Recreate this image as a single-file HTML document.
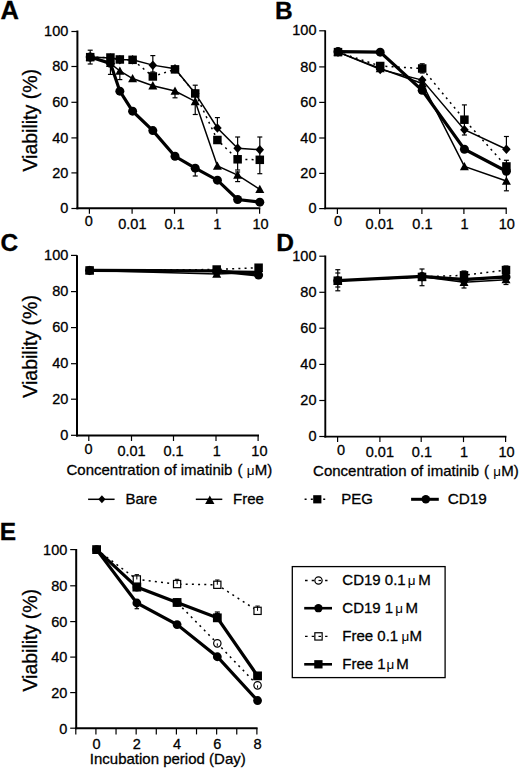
<!DOCTYPE html>
<html><head><meta charset="utf-8"><style>
html,body{margin:0;padding:0;background:#fff;}
svg{display:block;font-family:'Liberation Sans', sans-serif;}
text{fill:#000;stroke:#000;stroke-width:0.3px;}
</style></head><body>
<svg width="520" height="769" viewBox="0 0 520 769">
<rect width="520" height="769" fill="#fff"/>
<text x="0.6" y="19.4" font-size="25.5" text-anchor="start" font-weight="bold">A</text>
<line x1="77.4" y1="30.5" x2="77.4" y2="209.3" stroke="#000" stroke-width="2" stroke-linecap="butt"/>
<line x1="71.4" y1="31.5" x2="77.4" y2="31.5" stroke="#000" stroke-width="1.2" stroke-linecap="butt"/>
<text x="68.3" y="36.1" font-size="14.5" text-anchor="end" font-weight="normal">100</text>
<line x1="71.4" y1="66.5" x2="77.4" y2="66.5" stroke="#000" stroke-width="1.2" stroke-linecap="butt"/>
<text x="68.3" y="71.1" font-size="14.5" text-anchor="end" font-weight="normal">80</text>
<line x1="71.4" y1="102.3" x2="77.4" y2="102.3" stroke="#000" stroke-width="1.2" stroke-linecap="butt"/>
<text x="68.3" y="106.9" font-size="14.5" text-anchor="end" font-weight="normal">60</text>
<line x1="71.4" y1="137.9" x2="77.4" y2="137.9" stroke="#000" stroke-width="1.2" stroke-linecap="butt"/>
<text x="68.3" y="142.5" font-size="14.5" text-anchor="end" font-weight="normal">40</text>
<line x1="71.4" y1="172.9" x2="77.4" y2="172.9" stroke="#000" stroke-width="1.2" stroke-linecap="butt"/>
<text x="68.3" y="177.5" font-size="14.5" text-anchor="end" font-weight="normal">20</text>
<line x1="71.4" y1="208.5" x2="77.4" y2="208.5" stroke="#000" stroke-width="1.2" stroke-linecap="butt"/>
<text x="68.3" y="213.1" font-size="14.5" text-anchor="end" font-weight="normal">0</text>
<line x1="76.4" y1="208.3" x2="260.3" y2="208.3" stroke="#000" stroke-width="2" stroke-linecap="butt"/>
<line x1="89.4" y1="208.3" x2="89.4" y2="213.8" stroke="#000" stroke-width="1.2" stroke-linecap="butt"/>
<text x="88.8" y="226" font-size="14.5" text-anchor="middle" font-weight="normal">0</text>
<line x1="132.1" y1="208.3" x2="132.1" y2="213.8" stroke="#000" stroke-width="1.2" stroke-linecap="butt"/>
<text x="132.4" y="229.3" font-size="14.5" text-anchor="middle" font-weight="normal">0.01</text>
<line x1="174.5" y1="208.3" x2="174.5" y2="213.8" stroke="#000" stroke-width="1.2" stroke-linecap="butt"/>
<text x="174.5" y="229.3" font-size="14.5" text-anchor="middle" font-weight="normal">0.1</text>
<line x1="216.8" y1="208.3" x2="216.8" y2="213.8" stroke="#000" stroke-width="1.2" stroke-linecap="butt"/>
<text x="217.4" y="229.3" font-size="14.5" text-anchor="middle" font-weight="normal">1</text>
<line x1="259.6" y1="208.3" x2="259.6" y2="213.8" stroke="#000" stroke-width="1.2" stroke-linecap="butt"/>
<text x="260.5" y="229.3" font-size="14.5" text-anchor="middle" font-weight="normal">10</text>
<text transform="translate(36.8,120.3) rotate(-90)" font-size="19.5" text-anchor="middle">Viability (%)</text>
<line x1="90.2" y1="50.2" x2="90.2" y2="64" stroke="#000" stroke-width="1.2" stroke-linecap="butt"/>
<line x1="87.7" y1="50.2" x2="92.7" y2="50.2" stroke="#000" stroke-width="1.2" stroke-linecap="butt"/>
<line x1="87.7" y1="64" x2="92.7" y2="64" stroke="#000" stroke-width="1.2" stroke-linecap="butt"/>
<line x1="110.43" y1="62" x2="110.43" y2="74.4" stroke="#000" stroke-width="1.2" stroke-linecap="butt"/>
<line x1="107.93" y1="62" x2="112.93" y2="62" stroke="#000" stroke-width="1.2" stroke-linecap="butt"/>
<line x1="107.93" y1="74.4" x2="112.93" y2="74.4" stroke="#000" stroke-width="1.2" stroke-linecap="butt"/>
<line x1="119.84" y1="72" x2="119.84" y2="79.6" stroke="#000" stroke-width="1.2" stroke-linecap="butt"/>
<line x1="117.34" y1="72" x2="122.34" y2="72" stroke="#000" stroke-width="1.2" stroke-linecap="butt"/>
<line x1="117.34" y1="79.6" x2="122.34" y2="79.6" stroke="#000" stroke-width="1.2" stroke-linecap="butt"/>
<line x1="152.83" y1="55.6" x2="152.83" y2="72" stroke="#000" stroke-width="1.2" stroke-linecap="butt"/>
<line x1="150.33" y1="55.6" x2="155.33" y2="55.6" stroke="#000" stroke-width="1.2" stroke-linecap="butt"/>
<line x1="150.33" y1="72" x2="155.33" y2="72" stroke="#000" stroke-width="1.2" stroke-linecap="butt"/>
<line x1="175" y1="91" x2="175" y2="97.8" stroke="#000" stroke-width="1.2" stroke-linecap="butt"/>
<line x1="172.5" y1="97.8" x2="177.5" y2="97.8" stroke="#000" stroke-width="1.2" stroke-linecap="butt"/>
<line x1="195.23" y1="85.2" x2="195.23" y2="114.5" stroke="#000" stroke-width="1.2" stroke-linecap="butt"/>
<line x1="192.73" y1="85.2" x2="197.73" y2="85.2" stroke="#000" stroke-width="1.2" stroke-linecap="butt"/>
<line x1="192.73" y1="114.5" x2="197.73" y2="114.5" stroke="#000" stroke-width="1.2" stroke-linecap="butt"/>
<line x1="217.4" y1="117.6" x2="217.4" y2="128" stroke="#000" stroke-width="1.2" stroke-linecap="butt"/>
<line x1="214.9" y1="117.6" x2="219.9" y2="117.6" stroke="#000" stroke-width="1.2" stroke-linecap="butt"/>
<line x1="237.63" y1="137" x2="237.63" y2="170" stroke="#000" stroke-width="1.2" stroke-linecap="butt"/>
<line x1="235.13" y1="137" x2="240.13" y2="137" stroke="#000" stroke-width="1.2" stroke-linecap="butt"/>
<line x1="235.13" y1="170" x2="240.13" y2="170" stroke="#000" stroke-width="1.2" stroke-linecap="butt"/>
<line x1="237.63" y1="172" x2="237.63" y2="181.6" stroke="#000" stroke-width="1.2" stroke-linecap="butt"/>
<line x1="235.13" y1="172" x2="240.13" y2="172" stroke="#000" stroke-width="1.2" stroke-linecap="butt"/>
<line x1="235.13" y1="181.6" x2="240.13" y2="181.6" stroke="#000" stroke-width="1.2" stroke-linecap="butt"/>
<line x1="259.8" y1="137" x2="259.8" y2="173.7" stroke="#000" stroke-width="1.2" stroke-linecap="butt"/>
<line x1="257.3" y1="137" x2="262.3" y2="137" stroke="#000" stroke-width="1.2" stroke-linecap="butt"/>
<line x1="257.3" y1="173.7" x2="262.3" y2="173.7" stroke="#000" stroke-width="1.2" stroke-linecap="butt"/>
<line x1="195.23" y1="166" x2="195.23" y2="176" stroke="#000" stroke-width="1.2" stroke-linecap="butt"/>
<line x1="192.73" y1="166" x2="197.73" y2="166" stroke="#000" stroke-width="1.2" stroke-linecap="butt"/>
<line x1="192.73" y1="176" x2="197.73" y2="176" stroke="#000" stroke-width="1.2" stroke-linecap="butt"/>
<polyline points="90.2,57.16 110.43,63.36 119.84,70.97 132.6,78.58 152.83,85.66 175,90.97 195.23,101.41 217.4,166.02 237.63,175.05 259.8,189.38" fill="none" stroke="#000" stroke-width="1.5" stroke-linecap="butt" stroke-linejoin="miter"/>
<polygon points="90.2,52.61 94.7,60.89 85.7,60.89" fill="#000"/>
<polygon points="110.43,58.81 114.93,67.09 105.93,67.09" fill="#000"/>
<polygon points="119.84,66.42 124.34,74.7 115.34,74.7" fill="#000"/>
<polygon points="132.6,74.03 137.1,82.31 128.1,82.31" fill="#000"/>
<polygon points="152.83,81.11 157.33,89.39 148.33,89.39" fill="#000"/>
<polygon points="175,86.42 179.5,94.7 170.5,94.7" fill="#000"/>
<polygon points="195.23,96.86 199.73,105.14 190.73,105.14" fill="#000"/>
<polygon points="217.4,161.47 221.9,169.75 212.9,169.75" fill="#000"/>
<polygon points="237.63,170.49 242.13,178.77 233.13,178.77" fill="#000"/>
<polygon points="259.8,184.83 264.3,193.11 255.3,193.11" fill="#000"/>
<polyline points="90.2,56.99 110.43,58.05 119.84,59.82 132.6,59.82 152.83,65.13 175,68.67 195.23,93.45 217.4,127.97 237.63,148.32 259.8,149.74" fill="none" stroke="#000" stroke-width="1.5" stroke-linecap="butt" stroke-linejoin="miter"/>
<polygon points="90.2,52.24 94.48,56.99 90.2,61.74 85.92,56.99" fill="#000"/>
<polygon points="110.43,53.3 114.7,58.05 110.43,62.8 106.15,58.05" fill="#000"/>
<polygon points="119.84,55.07 124.11,59.82 119.84,64.57 115.56,59.82" fill="#000"/>
<polygon points="132.6,55.07 136.88,59.82 132.6,64.57 128.32,59.82" fill="#000"/>
<polygon points="152.83,60.38 157.1,65.13 152.83,69.88 148.55,65.13" fill="#000"/>
<polygon points="175,63.92 179.28,68.67 175,73.42 170.72,68.67" fill="#000"/>
<polygon points="195.23,88.7 199.5,93.45 195.23,98.2 190.95,93.45" fill="#000"/>
<polygon points="217.4,123.22 221.67,127.97 217.4,132.72 213.12,127.97" fill="#000"/>
<polygon points="237.63,143.57 241.9,148.32 237.63,153.07 233.35,148.32" fill="#000"/>
<polygon points="259.8,144.99 264.07,149.74 259.8,154.49 255.52,149.74" fill="#000"/>
<polyline points="90.2,57.16 110.43,57.52 119.84,59.47 132.6,59.82 152.83,76.46 175,69.38 195.23,93.45 217.4,140 237.63,159.29 259.8,159.82" fill="none" stroke="#000" stroke-width="1.5" stroke-linecap="butt" stroke-linejoin="miter" stroke-dasharray="2,4.2"/>
<rect x="85.95" y="52.91" width="8.5" height="8.5" fill="#000"/>
<rect x="106.18" y="53.27" width="8.5" height="8.5" fill="#000"/>
<rect x="115.59" y="55.22" width="8.5" height="8.5" fill="#000"/>
<rect x="128.35" y="55.57" width="8.5" height="8.5" fill="#000"/>
<rect x="148.58" y="72.21" width="8.5" height="8.5" fill="#000"/>
<rect x="170.75" y="65.13" width="8.5" height="8.5" fill="#000"/>
<rect x="190.98" y="89.2" width="8.5" height="8.5" fill="#000"/>
<rect x="213.15" y="135.75" width="8.5" height="8.5" fill="#000"/>
<rect x="233.38" y="155.04" width="8.5" height="8.5" fill="#000"/>
<rect x="255.55" y="155.57" width="8.5" height="8.5" fill="#000"/>
<polyline points="90.2,56.99 110.43,63.36 119.84,91.15 132.6,111.15 152.83,130.62 175,156.28 195.23,168.14 217.4,180.18 237.63,199.47 259.8,202.13" fill="none" stroke="#000" stroke-width="3.2" stroke-linecap="butt" stroke-linejoin="miter"/>
<circle cx="90.2" cy="56.99" r="4.5" fill="#000"/>
<circle cx="110.43" cy="63.36" r="4.5" fill="#000"/>
<circle cx="119.84" cy="91.15" r="4.5" fill="#000"/>
<circle cx="132.6" cy="111.15" r="4.5" fill="#000"/>
<circle cx="152.83" cy="130.62" r="4.5" fill="#000"/>
<circle cx="175" cy="156.28" r="4.5" fill="#000"/>
<circle cx="195.23" cy="168.14" r="4.5" fill="#000"/>
<circle cx="217.4" cy="180.18" r="4.5" fill="#000"/>
<circle cx="237.63" cy="199.47" r="4.5" fill="#000"/>
<circle cx="259.8" cy="202.13" r="4.5" fill="#000"/>
<text x="275" y="18.8" font-size="24.5" text-anchor="start" font-weight="bold">B</text>
<line x1="325.2" y1="30.3" x2="325.2" y2="209.2" stroke="#000" stroke-width="1.8" stroke-linecap="butt"/>
<line x1="319.2" y1="30.8" x2="325.2" y2="30.8" stroke="#000" stroke-width="1.2" stroke-linecap="butt"/>
<text x="316.5" y="35.4" font-size="14.5" text-anchor="end" font-weight="normal">100</text>
<line x1="319.2" y1="66.9" x2="325.2" y2="66.9" stroke="#000" stroke-width="1.2" stroke-linecap="butt"/>
<text x="316.5" y="71.5" font-size="14.5" text-anchor="end" font-weight="normal">80</text>
<line x1="319.2" y1="102.4" x2="325.2" y2="102.4" stroke="#000" stroke-width="1.2" stroke-linecap="butt"/>
<text x="316.5" y="107" font-size="14.5" text-anchor="end" font-weight="normal">60</text>
<line x1="319.2" y1="138" x2="325.2" y2="138" stroke="#000" stroke-width="1.2" stroke-linecap="butt"/>
<text x="316.5" y="142.6" font-size="14.5" text-anchor="end" font-weight="normal">40</text>
<line x1="319.2" y1="173.4" x2="325.2" y2="173.4" stroke="#000" stroke-width="1.2" stroke-linecap="butt"/>
<text x="316.5" y="178" font-size="14.5" text-anchor="end" font-weight="normal">20</text>
<line x1="319.2" y1="208.6" x2="325.2" y2="208.6" stroke="#000" stroke-width="1.2" stroke-linecap="butt"/>
<text x="316.5" y="213.2" font-size="14.5" text-anchor="end" font-weight="normal">0</text>
<line x1="324.3" y1="208.4" x2="506.8" y2="208.4" stroke="#000" stroke-width="1.8" stroke-linecap="butt"/>
<line x1="337.4" y1="208.4" x2="337.4" y2="213.9" stroke="#000" stroke-width="1.2" stroke-linecap="butt"/>
<text x="338" y="226" font-size="14.5" text-anchor="middle" font-weight="normal">0</text>
<line x1="379.7" y1="208.4" x2="379.7" y2="213.9" stroke="#000" stroke-width="1.2" stroke-linecap="butt"/>
<text x="379.7" y="229.3" font-size="14.5" text-anchor="middle" font-weight="normal">0.01</text>
<line x1="421.9" y1="208.4" x2="421.9" y2="213.9" stroke="#000" stroke-width="1.2" stroke-linecap="butt"/>
<text x="422.4" y="229.3" font-size="14.5" text-anchor="middle" font-weight="normal">0.1</text>
<line x1="463.9" y1="208.4" x2="463.9" y2="213.9" stroke="#000" stroke-width="1.2" stroke-linecap="butt"/>
<text x="464.5" y="229.3" font-size="14.5" text-anchor="middle" font-weight="normal">1</text>
<line x1="506.2" y1="208.4" x2="506.2" y2="213.9" stroke="#000" stroke-width="1.2" stroke-linecap="butt"/>
<text x="506.8" y="229.3" font-size="14.5" text-anchor="middle" font-weight="normal">10</text>
<line x1="422.2" y1="63.8" x2="422.2" y2="73" stroke="#000" stroke-width="1.2" stroke-linecap="butt"/>
<line x1="419.7" y1="63.8" x2="424.7" y2="63.8" stroke="#000" stroke-width="1.2" stroke-linecap="butt"/>
<line x1="419.7" y1="73" x2="424.7" y2="73" stroke="#000" stroke-width="1.2" stroke-linecap="butt"/>
<line x1="464.4" y1="104.9" x2="464.4" y2="135" stroke="#000" stroke-width="1.2" stroke-linecap="butt"/>
<line x1="461.9" y1="104.9" x2="466.9" y2="104.9" stroke="#000" stroke-width="1.2" stroke-linecap="butt"/>
<line x1="461.9" y1="135" x2="466.9" y2="135" stroke="#000" stroke-width="1.2" stroke-linecap="butt"/>
<line x1="506.4" y1="136.5" x2="506.4" y2="148" stroke="#000" stroke-width="1.2" stroke-linecap="butt"/>
<line x1="503.9" y1="136.5" x2="508.9" y2="136.5" stroke="#000" stroke-width="1.2" stroke-linecap="butt"/>
<line x1="506.4" y1="160.3" x2="506.4" y2="190.8" stroke="#000" stroke-width="1.2" stroke-linecap="butt"/>
<line x1="503.9" y1="160.3" x2="508.9" y2="160.3" stroke="#000" stroke-width="1.2" stroke-linecap="butt"/>
<line x1="503.9" y1="190.8" x2="508.9" y2="190.8" stroke="#000" stroke-width="1.2" stroke-linecap="butt"/>
<polyline points="338,52.14 380.2,68.49 422.2,83.43 464.4,166.46 506.4,181.04" fill="none" stroke="#000" stroke-width="1.5" stroke-linecap="butt" stroke-linejoin="miter"/>
<polygon points="338,47.58 342.5,55.86 333.5,55.86" fill="#000"/>
<polygon points="380.2,63.94 384.7,72.22 375.7,72.22" fill="#000"/>
<polygon points="422.2,78.87 426.7,87.15 417.7,87.15" fill="#000"/>
<polygon points="464.4,161.91 468.9,170.19 459.9,170.19" fill="#000"/>
<polygon points="506.4,176.49 510.9,184.77 501.9,184.77" fill="#000"/>
<polyline points="338,52.14 380.2,69.38 422.2,80.05 464.4,129.66 506.4,149.21" fill="none" stroke="#000" stroke-width="1.5" stroke-linecap="butt" stroke-linejoin="miter"/>
<polygon points="338,47.39 342.27,52.14 338,56.89 333.73,52.14" fill="#000"/>
<polygon points="380.2,64.63 384.47,69.38 380.2,74.13 375.93,69.38" fill="#000"/>
<polygon points="422.2,75.3 426.47,80.05 422.2,84.8 417.93,80.05" fill="#000"/>
<polygon points="464.4,124.91 468.67,129.66 464.4,134.41 460.12,129.66" fill="#000"/>
<polygon points="506.4,144.46 510.67,149.21 506.4,153.96 502.12,149.21" fill="#000"/>
<polyline points="338,52.14 380.2,66 422.2,68.49 464.4,119.7 506.4,166.46" fill="none" stroke="#000" stroke-width="1.5" stroke-linecap="butt" stroke-linejoin="miter" stroke-dasharray="2,4.2"/>
<rect x="333.75" y="47.89" width="8.5" height="8.5" fill="#000"/>
<rect x="375.95" y="61.75" width="8.5" height="8.5" fill="#000"/>
<rect x="417.95" y="64.24" width="8.5" height="8.5" fill="#000"/>
<rect x="460.15" y="115.45" width="8.5" height="8.5" fill="#000"/>
<rect x="502.15" y="162.21" width="8.5" height="8.5" fill="#000"/>
<polyline points="338,51.6 380.2,52.14 422.2,90.36 464.4,149.21 506.4,171.26" fill="none" stroke="#000" stroke-width="3.2" stroke-linecap="butt" stroke-linejoin="miter"/>
<circle cx="338" cy="51.6" r="4.5" fill="#000"/>
<circle cx="380.2" cy="52.14" r="4.5" fill="#000"/>
<circle cx="422.2" cy="90.36" r="4.5" fill="#000"/>
<circle cx="464.4" cy="149.21" r="4.5" fill="#000"/>
<circle cx="506.4" cy="171.26" r="4.5" fill="#000"/>
<text x="0.5" y="250.6" font-size="24.5" text-anchor="start" font-weight="bold">C</text>
<line x1="77" y1="255.2" x2="77" y2="436.4" stroke="#000" stroke-width="2" stroke-linecap="butt"/>
<line x1="71" y1="255.4" x2="77" y2="255.4" stroke="#000" stroke-width="1.2" stroke-linecap="butt"/>
<text x="68.3" y="260" font-size="14.5" text-anchor="end" font-weight="normal">100</text>
<line x1="71" y1="291.6" x2="77" y2="291.6" stroke="#000" stroke-width="1.2" stroke-linecap="butt"/>
<text x="68.3" y="296.2" font-size="14.5" text-anchor="end" font-weight="normal">80</text>
<line x1="71" y1="327.6" x2="77" y2="327.6" stroke="#000" stroke-width="1.2" stroke-linecap="butt"/>
<text x="68.3" y="332.2" font-size="14.5" text-anchor="end" font-weight="normal">60</text>
<line x1="71" y1="363.7" x2="77" y2="363.7" stroke="#000" stroke-width="1.2" stroke-linecap="butt"/>
<text x="68.3" y="368.3" font-size="14.5" text-anchor="end" font-weight="normal">40</text>
<line x1="71" y1="399.2" x2="77" y2="399.2" stroke="#000" stroke-width="1.2" stroke-linecap="butt"/>
<text x="68.3" y="403.8" font-size="14.5" text-anchor="end" font-weight="normal">20</text>
<line x1="71" y1="435.3" x2="77" y2="435.3" stroke="#000" stroke-width="1.2" stroke-linecap="butt"/>
<text x="68.3" y="439.9" font-size="14.5" text-anchor="end" font-weight="normal">0</text>
<line x1="76" y1="435.5" x2="259" y2="435.5" stroke="#000" stroke-width="2" stroke-linecap="butt"/>
<line x1="88.8" y1="435.5" x2="88.8" y2="441" stroke="#000" stroke-width="1.2" stroke-linecap="butt"/>
<text x="88.5" y="453.8" font-size="14.5" text-anchor="middle" font-weight="normal">0</text>
<line x1="131.5" y1="435.5" x2="131.5" y2="441" stroke="#000" stroke-width="1.2" stroke-linecap="butt"/>
<text x="131.5" y="455.9" font-size="14.5" text-anchor="middle" font-weight="normal">0.01</text>
<line x1="173.5" y1="435.5" x2="173.5" y2="441" stroke="#000" stroke-width="1.2" stroke-linecap="butt"/>
<text x="173.5" y="455.9" font-size="14.5" text-anchor="middle" font-weight="normal">0.1</text>
<line x1="216" y1="435.5" x2="216" y2="441" stroke="#000" stroke-width="1.2" stroke-linecap="butt"/>
<text x="216.8" y="455.9" font-size="14.5" text-anchor="middle" font-weight="normal">1</text>
<line x1="258.1" y1="435.5" x2="258.1" y2="441" stroke="#000" stroke-width="1.2" stroke-linecap="butt"/>
<text x="259.4" y="455.9" font-size="14.5" text-anchor="middle" font-weight="normal">10</text>
<text transform="translate(36.8,346.4) rotate(-90)" font-size="19.5" text-anchor="middle">Viability (%)</text>
<text x="66.5" y="475.3" font-size="15" text-anchor="start" font-weight="normal">Concentration of imatinib</text>
<text x="237.5" y="475.3" font-size="15" text-anchor="start" font-weight="normal">(</text>
<text x="246.7" y="475.3" font-size="13.5" style="stroke:none">μ</text>
<text x="254.7" y="475.3" font-size="15" text-anchor="start" font-weight="normal">M)</text>
<text x="313.1" y="476.1" font-size="15" text-anchor="start" font-weight="normal">Concentration of imatinib</text>
<text x="484.1" y="476.1" font-size="15" text-anchor="start" font-weight="normal">(</text>
<text x="493.3" y="476.1" font-size="13.5" style="stroke:none">μ</text>
<text x="501.3" y="476.1" font-size="15" text-anchor="start" font-weight="normal">M)</text>
<polyline points="89.6,270.42 216.7,274.02 258.6,272.4" fill="none" stroke="#000" stroke-width="1.5" stroke-linecap="butt" stroke-linejoin="miter"/>
<polygon points="89.6,265.87 94.1,274.15 85.1,274.15" fill="#000"/>
<polygon points="216.7,269.47 221.2,277.75 212.2,277.75" fill="#000"/>
<polygon points="258.6,267.85 263.1,276.13 254.1,276.13" fill="#000"/>
<polyline points="89.6,270.42 216.7,270.96 258.6,271.5" fill="none" stroke="#000" stroke-width="1.5" stroke-linecap="butt" stroke-linejoin="miter"/>
<polygon points="89.6,265.67 93.88,270.42 89.6,275.17 85.32,270.42" fill="#000"/>
<polygon points="216.7,266.21 220.97,270.96 216.7,275.71 212.42,270.96" fill="#000"/>
<polygon points="258.6,266.75 262.88,271.5 258.6,276.25 254.33,271.5" fill="#000"/>
<polyline points="89.6,270.42 216.7,270.96 258.6,275.1" fill="none" stroke="#000" stroke-width="3.2" stroke-linecap="butt" stroke-linejoin="miter"/>
<circle cx="89.6" cy="270.42" r="4.5" fill="#000"/>
<circle cx="216.7" cy="270.96" r="4.5" fill="#000"/>
<circle cx="258.6" cy="275.1" r="4.5" fill="#000"/>
<polyline points="89.6,270.42 216.7,269.52 258.6,267.72" fill="none" stroke="#000" stroke-width="1.5" stroke-linecap="butt" stroke-linejoin="miter" stroke-dasharray="2,4.2"/>
<rect x="85.35" y="266.17" width="8.5" height="8.5" fill="#000"/>
<rect x="212.45" y="265.27" width="8.5" height="8.5" fill="#000"/>
<rect x="254.35" y="263.47" width="8.5" height="8.5" fill="#000"/>
<text x="276.2" y="250.6" font-size="24.5" text-anchor="start" font-weight="bold">D</text>
<line x1="325.3" y1="255.5" x2="325.3" y2="437.55" stroke="#000" stroke-width="1.9" stroke-linecap="butt"/>
<line x1="319.3" y1="256.2" x2="325.3" y2="256.2" stroke="#000" stroke-width="1.2" stroke-linecap="butt"/>
<text x="316.5" y="260.8" font-size="14.5" text-anchor="end" font-weight="normal">100</text>
<line x1="319.3" y1="292.3" x2="325.3" y2="292.3" stroke="#000" stroke-width="1.2" stroke-linecap="butt"/>
<text x="316.5" y="296.9" font-size="14.5" text-anchor="end" font-weight="normal">80</text>
<line x1="319.3" y1="328.2" x2="325.3" y2="328.2" stroke="#000" stroke-width="1.2" stroke-linecap="butt"/>
<text x="316.5" y="332.8" font-size="14.5" text-anchor="end" font-weight="normal">60</text>
<line x1="319.3" y1="364.4" x2="325.3" y2="364.4" stroke="#000" stroke-width="1.2" stroke-linecap="butt"/>
<text x="316.5" y="369" font-size="14.5" text-anchor="end" font-weight="normal">40</text>
<line x1="319.3" y1="400.5" x2="325.3" y2="400.5" stroke="#000" stroke-width="1.2" stroke-linecap="butt"/>
<text x="316.5" y="405.1" font-size="14.5" text-anchor="end" font-weight="normal">20</text>
<line x1="319.3" y1="436.5" x2="325.3" y2="436.5" stroke="#000" stroke-width="1.2" stroke-linecap="butt"/>
<text x="316.5" y="441.1" font-size="14.5" text-anchor="end" font-weight="normal">0</text>
<line x1="324.35" y1="436.6" x2="506.4" y2="436.6" stroke="#000" stroke-width="1.9" stroke-linecap="butt"/>
<line x1="337.6" y1="436.6" x2="337.6" y2="442.1" stroke="#000" stroke-width="1.2" stroke-linecap="butt"/>
<text x="341" y="455" font-size="14.5" text-anchor="middle" font-weight="normal">0</text>
<line x1="379.9" y1="436.6" x2="379.9" y2="442.1" stroke="#000" stroke-width="1.2" stroke-linecap="butt"/>
<text x="379.9" y="456.8" font-size="14.5" text-anchor="middle" font-weight="normal">0.01</text>
<line x1="421.2" y1="436.6" x2="421.2" y2="442.1" stroke="#000" stroke-width="1.2" stroke-linecap="butt"/>
<text x="421.9" y="456.8" font-size="14.5" text-anchor="middle" font-weight="normal">0.1</text>
<line x1="463.5" y1="436.6" x2="463.5" y2="442.1" stroke="#000" stroke-width="1.2" stroke-linecap="butt"/>
<text x="464.1" y="456.8" font-size="14.5" text-anchor="middle" font-weight="normal">1</text>
<line x1="505.6" y1="436.6" x2="505.6" y2="442.1" stroke="#000" stroke-width="1.2" stroke-linecap="butt"/>
<text x="506.5" y="456.8" font-size="14.5" text-anchor="middle" font-weight="normal">10</text>
<line x1="337.8" y1="269.7" x2="337.8" y2="290.8" stroke="#000" stroke-width="1.2" stroke-linecap="butt"/>
<line x1="335.3" y1="269.7" x2="340.3" y2="269.7" stroke="#000" stroke-width="1.2" stroke-linecap="butt"/>
<line x1="335.3" y1="290.8" x2="340.3" y2="290.8" stroke="#000" stroke-width="1.2" stroke-linecap="butt"/>
<line x1="335.3" y1="273" x2="340.3" y2="273" stroke="#000" stroke-width="1.2" stroke-linecap="butt"/>
<line x1="335.3" y1="287" x2="340.3" y2="287" stroke="#000" stroke-width="1.2" stroke-linecap="butt"/>
<line x1="422" y1="269" x2="422" y2="285.7" stroke="#000" stroke-width="1.2" stroke-linecap="butt"/>
<line x1="419.5" y1="269" x2="424.5" y2="269" stroke="#000" stroke-width="1.2" stroke-linecap="butt"/>
<line x1="419.5" y1="285.7" x2="424.5" y2="285.7" stroke="#000" stroke-width="1.2" stroke-linecap="butt"/>
<line x1="464" y1="271" x2="464" y2="288" stroke="#000" stroke-width="1.2" stroke-linecap="butt"/>
<line x1="461.5" y1="271" x2="466.5" y2="271" stroke="#000" stroke-width="1.2" stroke-linecap="butt"/>
<line x1="461.5" y1="288" x2="466.5" y2="288" stroke="#000" stroke-width="1.2" stroke-linecap="butt"/>
<line x1="506" y1="266" x2="506" y2="284.5" stroke="#000" stroke-width="1.2" stroke-linecap="butt"/>
<line x1="503.5" y1="266" x2="508.5" y2="266" stroke="#000" stroke-width="1.2" stroke-linecap="butt"/>
<line x1="503.5" y1="284.5" x2="508.5" y2="284.5" stroke="#000" stroke-width="1.2" stroke-linecap="butt"/>
<polyline points="337.8,280.72 422,276.75 464,282.34 506,279.64" fill="none" stroke="#000" stroke-width="1.5" stroke-linecap="butt" stroke-linejoin="miter"/>
<polygon points="337.8,276.17 342.3,284.45 333.3,284.45" fill="#000"/>
<polygon points="422,272.2 426.5,280.48 417.5,280.48" fill="#000"/>
<polygon points="464,277.79 468.5,286.07 459.5,286.07" fill="#000"/>
<polygon points="506,275.09 510.5,283.37 501.5,283.37" fill="#000"/>
<polyline points="337.8,280.72 422,277.11 464,278.74 506,277.84" fill="none" stroke="#000" stroke-width="1.5" stroke-linecap="butt" stroke-linejoin="miter"/>
<polygon points="337.8,275.97 342.07,280.72 337.8,285.47 333.53,280.72" fill="#000"/>
<polygon points="422,272.36 426.27,277.11 422,281.86 417.73,277.11" fill="#000"/>
<polygon points="464,273.99 468.27,278.74 464,283.49 459.73,278.74" fill="#000"/>
<polygon points="506,273.09 510.27,277.84 506,282.59 501.73,277.84" fill="#000"/>
<polyline points="337.8,280.72 422,276.39 464,279.64 506,276.93" fill="none" stroke="#000" stroke-width="3.2" stroke-linecap="butt" stroke-linejoin="miter"/>
<circle cx="337.8" cy="280.72" r="4.5" fill="#000"/>
<circle cx="422" cy="276.39" r="4.5" fill="#000"/>
<circle cx="464" cy="279.64" r="4.5" fill="#000"/>
<circle cx="506" cy="276.93" r="4.5" fill="#000"/>
<polyline points="337.8,280.72 422,276.93 464,275.31 506,270.08" fill="none" stroke="#000" stroke-width="1.5" stroke-linecap="butt" stroke-linejoin="miter" stroke-dasharray="2,4.2"/>
<rect x="333.55" y="276.47" width="8.5" height="8.5" fill="#000"/>
<rect x="417.75" y="272.68" width="8.5" height="8.5" fill="#000"/>
<rect x="459.75" y="271.06" width="8.5" height="8.5" fill="#000"/>
<rect x="501.75" y="265.83" width="8.5" height="8.5" fill="#000"/>
<line x1="88.1" y1="499.3" x2="114.6" y2="499.3" stroke="#000" stroke-width="1.5" stroke-linecap="butt"/>
<polygon points="101.9,495.3 105.5,499.3 101.9,503.3 98.3,499.3" fill="#000"/>
<text x="125.5" y="504.3" font-size="15" text-anchor="start" font-weight="normal">Bare</text>
<line x1="195.8" y1="499.3" x2="222.3" y2="499.3" stroke="#000" stroke-width="1.5" stroke-linecap="butt"/>
<polygon points="209.8,495.39 214.45,503.95 205.15,503.95" fill="#000"/>
<text x="233" y="504.3" font-size="15" text-anchor="start" font-weight="normal">Free</text>
<line x1="304.6" y1="499.3" x2="327" y2="499.3" stroke="#000" stroke-width="1.5" stroke-linecap="butt" stroke-dasharray="2,4.2"/>
<rect x="313.2" y="495.2" width="8.2" height="8.2" fill="#000"/>
<text x="341.2" y="504.3" font-size="15" text-anchor="start" font-weight="normal">PEG</text>
<line x1="411.1" y1="499.3" x2="438.8" y2="499.3" stroke="#000" stroke-width="3" stroke-linecap="butt"/>
<circle cx="425.8" cy="499.3" r="4.25" fill="#000"/>
<text x="447.7" y="504.3" font-size="15.3" text-anchor="start" font-weight="normal">CD19</text>
<text x="-0.2" y="540.2" font-size="24.5" text-anchor="start" font-weight="bold">E</text>
<line x1="76.2" y1="549" x2="76.2" y2="729.2" stroke="#000" stroke-width="2" stroke-linecap="butt"/>
<line x1="70.2" y1="549.6" x2="76.2" y2="549.6" stroke="#000" stroke-width="1.2" stroke-linecap="butt"/>
<text x="67.3" y="554.9" font-size="14.5" text-anchor="end" font-weight="normal">100</text>
<line x1="70.2" y1="585.8" x2="76.2" y2="585.8" stroke="#000" stroke-width="1.2" stroke-linecap="butt"/>
<text x="67.3" y="591.1" font-size="14.5" text-anchor="end" font-weight="normal">80</text>
<line x1="70.2" y1="621.6" x2="76.2" y2="621.6" stroke="#000" stroke-width="1.2" stroke-linecap="butt"/>
<text x="67.3" y="626.9" font-size="14.5" text-anchor="end" font-weight="normal">60</text>
<line x1="70.2" y1="657.1" x2="76.2" y2="657.1" stroke="#000" stroke-width="1.2" stroke-linecap="butt"/>
<text x="67.3" y="662.4" font-size="14.5" text-anchor="end" font-weight="normal">40</text>
<line x1="70.2" y1="692.6" x2="76.2" y2="692.6" stroke="#000" stroke-width="1.2" stroke-linecap="butt"/>
<text x="67.3" y="697.9" font-size="14.5" text-anchor="end" font-weight="normal">20</text>
<line x1="70.2" y1="728.2" x2="76.2" y2="728.2" stroke="#000" stroke-width="1.2" stroke-linecap="butt"/>
<text x="67.3" y="733.5" font-size="14.5" text-anchor="end" font-weight="normal">0</text>
<line x1="75.2" y1="728.2" x2="257.6" y2="728.2" stroke="#000" stroke-width="2" stroke-linecap="butt"/>
<line x1="75.8" y1="728.2" x2="75.8" y2="734.4" stroke="#000" stroke-width="1.2" stroke-linecap="butt"/>
<line x1="95.92" y1="728.2" x2="95.92" y2="734.4" stroke="#000" stroke-width="1.2" stroke-linecap="butt"/>
<line x1="116.04" y1="728.2" x2="116.04" y2="734.4" stroke="#000" stroke-width="1.2" stroke-linecap="butt"/>
<line x1="136.16" y1="728.2" x2="136.16" y2="734.4" stroke="#000" stroke-width="1.2" stroke-linecap="butt"/>
<line x1="156.28" y1="728.2" x2="156.28" y2="734.4" stroke="#000" stroke-width="1.2" stroke-linecap="butt"/>
<line x1="176.4" y1="728.2" x2="176.4" y2="734.4" stroke="#000" stroke-width="1.2" stroke-linecap="butt"/>
<line x1="196.52" y1="728.2" x2="196.52" y2="734.4" stroke="#000" stroke-width="1.2" stroke-linecap="butt"/>
<line x1="216.64" y1="728.2" x2="216.64" y2="734.4" stroke="#000" stroke-width="1.2" stroke-linecap="butt"/>
<line x1="236.76" y1="728.2" x2="236.76" y2="734.4" stroke="#000" stroke-width="1.2" stroke-linecap="butt"/>
<line x1="256.88" y1="728.2" x2="256.88" y2="734.4" stroke="#000" stroke-width="1.2" stroke-linecap="butt"/>
<text x="96.6" y="748.7" font-size="14.5" text-anchor="middle" font-weight="normal">0</text>
<text x="136.84" y="748.7" font-size="14.5" text-anchor="middle" font-weight="normal">2</text>
<text x="177.08" y="748.7" font-size="14.5" text-anchor="middle" font-weight="normal">4</text>
<text x="217.32" y="748.7" font-size="14.5" text-anchor="middle" font-weight="normal">6</text>
<text x="257.56" y="748.7" font-size="14.5" text-anchor="middle" font-weight="normal">8</text>
<text x="89.8" y="764" font-size="15" text-anchor="start" font-weight="normal">Incubation period (Day)</text>
<text transform="translate(36.5,640.3) rotate(-90)" font-size="19.5" text-anchor="middle">Viability (%)</text>
<polyline points="96.6,549.6 136.84,587.11 177.08,602.47 217.32,643.37 257.56,685.34" fill="none" stroke="#000" stroke-width="1.5" stroke-linecap="butt" stroke-linejoin="miter" stroke-dasharray="2,4.2"/>
<polyline points="96.6,549.6 136.84,579.43 177.08,584.07 217.32,584.78 257.56,610.86" fill="none" stroke="#000" stroke-width="1.5" stroke-linecap="butt" stroke-linejoin="miter" stroke-dasharray="2,4.2"/>
<circle cx="136.84" cy="587.11" r="3.7" fill="#fff" stroke="#000" stroke-width="1.2"/>
<line x1="136.84" y1="587.11" x2="136.84" y2="589.61" stroke="#000" stroke-width="1" stroke-linecap="butt"/>
<circle cx="177.08" cy="602.47" r="3.7" fill="#fff" stroke="#000" stroke-width="1.2"/>
<line x1="177.08" y1="602.47" x2="177.08" y2="604.97" stroke="#000" stroke-width="1" stroke-linecap="butt"/>
<circle cx="217.32" cy="643.37" r="3.7" fill="#fff" stroke="#000" stroke-width="1.2"/>
<line x1="217.32" y1="643.37" x2="217.32" y2="645.87" stroke="#000" stroke-width="1" stroke-linecap="butt"/>
<circle cx="257.56" cy="685.34" r="3.7" fill="#fff" stroke="#000" stroke-width="1.2"/>
<line x1="257.56" y1="685.34" x2="257.56" y2="687.84" stroke="#000" stroke-width="1" stroke-linecap="butt"/>
<polyline points="96.6,549.6 136.84,587.11 177.08,602.47 217.32,617.83 257.56,675.87" fill="none" stroke="#000" stroke-width="3.2" stroke-linecap="butt" stroke-linejoin="miter"/>
<polyline points="96.6,549.6 136.84,603 177.08,624.61 217.32,656.76 257.56,700.52" fill="none" stroke="#000" stroke-width="3.2" stroke-linecap="butt" stroke-linejoin="miter"/>
<line x1="136.84" y1="603" x2="136.84" y2="608.7" stroke="#000" stroke-width="1.2" stroke-linecap="butt"/>
<line x1="134.59" y1="608.7" x2="139.09" y2="608.7" stroke="#000" stroke-width="1.2" stroke-linecap="butt"/>
<line x1="217.32" y1="612" x2="217.32" y2="618" stroke="#000" stroke-width="1.2" stroke-linecap="butt"/>
<line x1="214.82" y1="612" x2="219.82" y2="612" stroke="#000" stroke-width="1.2" stroke-linecap="butt"/>
<line x1="214.82" y1="618" x2="219.82" y2="618" stroke="#000" stroke-width="1.2" stroke-linecap="butt"/>
<line x1="217.32" y1="613.5" x2="217.32" y2="620" stroke="#000" stroke-width="1.2" stroke-linecap="butt"/>
<line x1="214.82" y1="613.5" x2="219.82" y2="613.5" stroke="#000" stroke-width="1.2" stroke-linecap="butt"/>
<line x1="214.82" y1="620" x2="219.82" y2="620" stroke="#000" stroke-width="1.2" stroke-linecap="butt"/>
<circle cx="96.6" cy="549.6" r="4.4" fill="#000"/>
<circle cx="136.84" cy="603" r="4.4" fill="#000"/>
<circle cx="177.08" cy="624.61" r="4.4" fill="#000"/>
<circle cx="217.32" cy="656.76" r="4.4" fill="#000"/>
<circle cx="257.56" cy="700.52" r="4.4" fill="#000"/>
<rect x="92.2" y="545.2" width="8.8" height="8.8" fill="#000"/>
<rect x="132.44" y="582.71" width="8.8" height="8.8" fill="#000"/>
<rect x="172.68" y="598.07" width="8.8" height="8.8" fill="#000"/>
<rect x="212.92" y="613.43" width="8.8" height="8.8" fill="#000"/>
<rect x="253.16" y="671.47" width="8.8" height="8.8" fill="#000"/>
<rect x="133.24" y="575.83" width="7.2" height="7.2" fill="#fff" stroke="#000" stroke-width="1.2"/>
<line x1="136.84" y1="574.63" x2="136.84" y2="579.43" stroke="#000" stroke-width="1" stroke-linecap="butt"/>
<line x1="134.64" y1="574.63" x2="139.04" y2="574.63" stroke="#000" stroke-width="1" stroke-linecap="butt"/>
<rect x="173.48" y="580.47" width="7.2" height="7.2" fill="#fff" stroke="#000" stroke-width="1.2"/>
<line x1="177.08" y1="579.27" x2="177.08" y2="584.07" stroke="#000" stroke-width="1" stroke-linecap="butt"/>
<line x1="174.88" y1="579.27" x2="179.28" y2="579.27" stroke="#000" stroke-width="1" stroke-linecap="butt"/>
<rect x="213.72" y="581.18" width="7.2" height="7.2" fill="#fff" stroke="#000" stroke-width="1.2"/>
<line x1="217.32" y1="579.98" x2="217.32" y2="584.78" stroke="#000" stroke-width="1" stroke-linecap="butt"/>
<line x1="215.12" y1="579.98" x2="219.52" y2="579.98" stroke="#000" stroke-width="1" stroke-linecap="butt"/>
<rect x="253.96" y="607.26" width="7.2" height="7.2" fill="#fff" stroke="#000" stroke-width="1.2"/>
<line x1="257.56" y1="606.06" x2="257.56" y2="610.86" stroke="#000" stroke-width="1" stroke-linecap="butt"/>
<line x1="255.36" y1="606.06" x2="259.76" y2="606.06" stroke="#000" stroke-width="1" stroke-linecap="butt"/>
<rect x="292.3" y="566.6" width="152.8" height="111" fill="none" stroke="#000" stroke-width="1.3"/>
<line x1="305" y1="580.5" x2="327.5" y2="580.5" stroke="#000" stroke-width="1.3" stroke-linecap="butt" stroke-dasharray="2.6,4.1"/>
<circle cx="318.5" cy="580.5" r="3.65" fill="#fff" stroke="#000" stroke-width="1.2"/>
<line x1="318.5" y1="580.5" x2="321" y2="580.5" stroke="#000" stroke-width="1.2" stroke-linecap="butt"/>
<line x1="304.2" y1="608.2" x2="332" y2="608.2" stroke="#000" stroke-width="2.6" stroke-linecap="butt"/>
<circle cx="318.4" cy="608.2" r="4.15" fill="#000"/>
<line x1="305" y1="636.4" x2="327.5" y2="636.4" stroke="#000" stroke-width="1.3" stroke-linecap="butt" stroke-dasharray="2.6,4.1"/>
<rect x="314.85" y="632.75" width="7.3" height="7.3" fill="#fff" stroke="#000" stroke-width="1.2"/>
<line x1="318.5" y1="636.4" x2="321" y2="636.4" stroke="#000" stroke-width="1.2" stroke-linecap="butt"/>
<line x1="304.2" y1="664.3" x2="332" y2="664.3" stroke="#000" stroke-width="2.6" stroke-linecap="butt"/>
<rect x="314.25" y="660.15" width="8.3" height="8.3" fill="#000"/>
<text x="342.3" y="584.8" font-size="15" text-anchor="start" font-weight="normal">CD19 0.1</text>
<text x="407.8" y="584.8" font-size="13.5" style="stroke:none">μ</text>
<text x="418.2" y="584.8" font-size="15" text-anchor="start" font-weight="normal">M</text>
<text x="342.3" y="612.8" font-size="15" text-anchor="start" font-weight="normal">CD19 1</text>
<text x="395.2" y="612.8" font-size="13.5" style="stroke:none">μ</text>
<text x="405.5" y="612.8" font-size="15" text-anchor="start" font-weight="normal">M</text>
<text x="342.3" y="640.8" font-size="15" text-anchor="start" font-weight="normal">Free 0.1</text>
<text x="401.4" y="640.8" font-size="13.5" style="stroke:none">μ</text>
<text x="409.6" y="640.8" font-size="15" text-anchor="start" font-weight="normal">M</text>
<text x="342.3" y="668.8" font-size="15" text-anchor="start" font-weight="normal">Free 1</text>
<text x="386.4" y="668.8" font-size="13.5" style="stroke:none">μ</text>
<text x="396.2" y="668.8" font-size="15" text-anchor="start" font-weight="normal">M</text>
</svg>
</body></html>
